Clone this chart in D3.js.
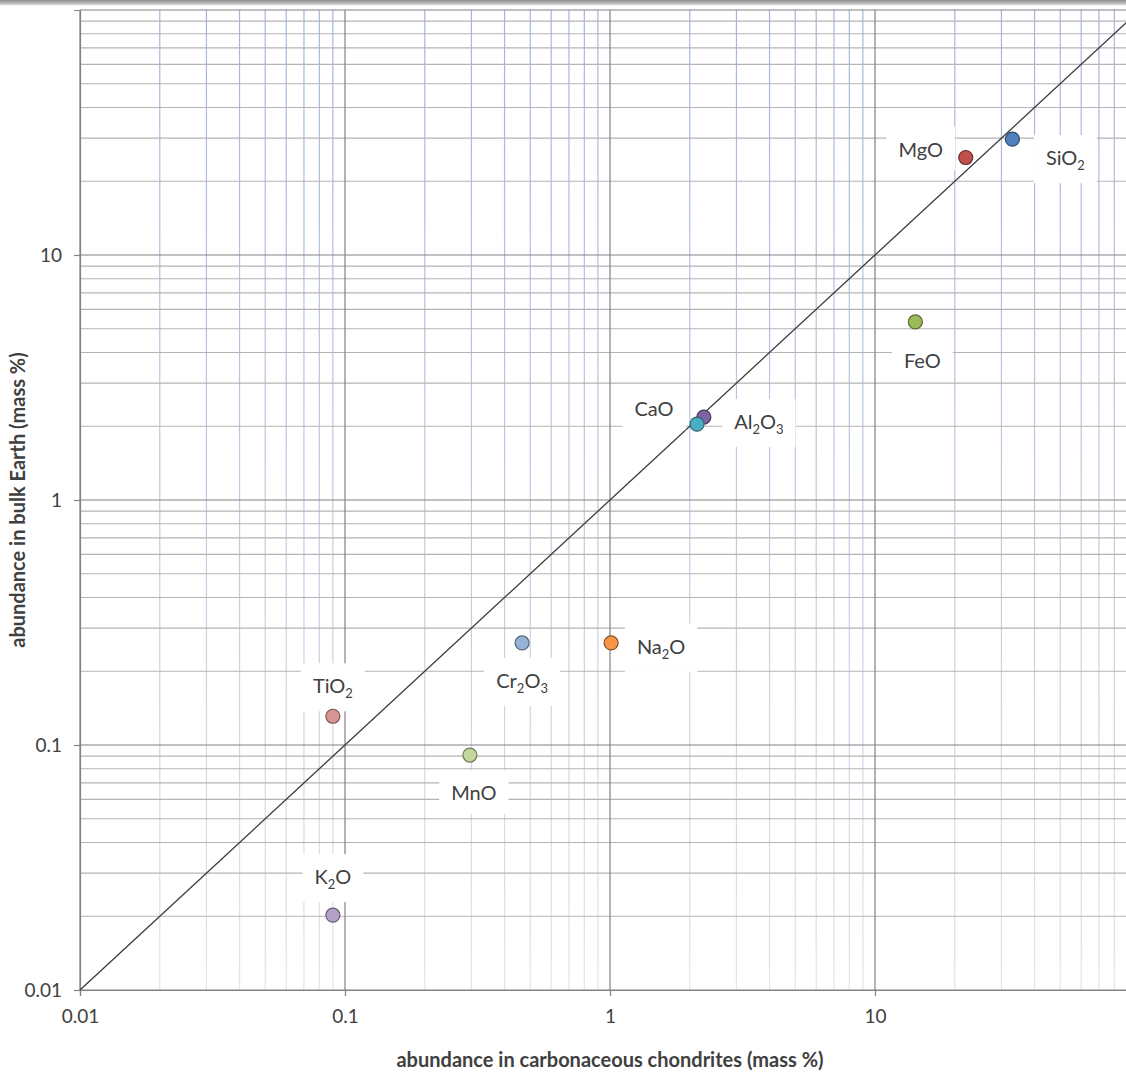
<!DOCTYPE html>
<html>
<head>
<meta charset="utf-8">
<script src="https://cdn.jsdelivr.net/npm/d3@7"></script>
<style>
  html, body { margin: 0; padding: 0; background: #ffffff; }
  svg { display: block; }
  text { font-family: Lato, "Open Sans", sans-serif; fill: #404040; }
</style>
</head>
<body>
<svg id="chart" width="1126" height="1077"></svg>
<script>
// ---------- data ----------
const oxides = ["SiO2", "MgO", "FeO", "Al2O3", "CaO", "Na2O", "Cr2O3", "TiO2", "MnO", "K2O"];
const chondriteValues = [33, 22, 14.2, 2.26, 2.13, 1.01, 0.466, 0.090, 0.296, 0.090];
const bulkEarthValues = [29.7, 25, 5.33, 2.18, 2.04, 0.261, 0.261, 0.131, 0.091, 0.0202];
const markerColors = ["#4F81BD", "#C0504D", "#9BBB59", "#8064A2", "#4BACC6", "#F79646", "#95B3D7", "#D99694", "#C3D69B", "#B3A2C7"];
const tickValues = [0.01, 0.1, 1, 10, 100];
const tickLabels = ["0.01", "0.1", "1", "10", "100"];
const xTitle = "abundance in carbonaceous chondrites (mass %)";
const yTitle = "abundance in bulk Earth (mass %)";

// label placement relative to the marker (layout only)
const labelOffsets = {
  SiO2: [53, 19], MgO: [-45, -8], FeO: [7, 39], Al2O3: [55, 5], CaO: [-43, -15],
  Na2O: [50, 4], Cr2O3: [0, 38], TiO2: [0, -30], MnO: [4, 38], K2O: [0, -38]
};

// ---------- layout ----------
const W = 1126, H = 1077;
const mLeft = 80, mRight = 1140, mTop = 10, mBottom = 990;

const svg = d3.select("#chart");
const defs = svg.append("defs");

const x = d3.scaleLog().domain([0.01, 100]).range([mLeft, mRight]);
const y = d3.scaleLog().domain([0.01, 100]).range([mBottom, mTop]);

// top shadow bar
const shadow = defs.append("linearGradient").attr("id", "shadow").attr("x1", 0).attr("y1", 0).attr("x2", 0).attr("y2", 1);
shadow.append("stop").attr("offset", 0).attr("stop-color", "#8e8e8e");
shadow.append("stop").attr("offset", 0.6).attr("stop-color", "#bdbdbd");
shadow.append("stop").attr("offset", 1).attr("stop-color", "#ffffff");
svg.append("rect").attr("x", 0).attr("y", 0).attr("width", W).attr("height", 6).attr("fill", "url(#shadow)");

// gradient for vertical minor gridlines
const vg = defs.append("linearGradient").attr("id", "vminor").attr("gradientUnits", "userSpaceOnUse")
  .attr("x1", 0).attr("y1", mTop).attr("x2", 0).attr("y2", mBottom);
vg.append("stop").attr("offset", 0).attr("stop-color", "#a3b6da");
vg.append("stop").attr("offset", 0.55).attr("stop-color", "#c3cbe0");
vg.append("stop").attr("offset", 1).attr("stop-color", "#e4e4e9");

// minor tick values
const minor = [];
for (let d = -2; d < 2; d++) for (let m = 2; m <= 9; m++) minor.push(m * Math.pow(10, d));

const grid = svg.append("g");
grid.selectAll("line.vmin").data(minor).join("line").attr("class", "vmin")
  .attr("x1", d => x(d)).attr("x2", d => x(d)).attr("y1", mTop).attr("y2", mBottom)
  .attr("stroke", "url(#vminor)").attr("stroke-width", 1.2);
grid.selectAll("line.hmin").data(minor).join("line").attr("class", "hmin")
  .attr("x1", mLeft).attr("x2", mRight).attr("y1", d => y(d)).attr("y2", d => y(d))
  .attr("stroke", "#b4b4b4").attr("stroke-width", 1.2);
grid.selectAll("line.vmaj").data(tickValues).join("line").attr("class", "vmaj")
  .attr("x1", d => x(d)).attr("x2", d => x(d)).attr("y1", mTop).attr("y2", mBottom)
  .attr("stroke", "#828282").attr("stroke-width", 1.2);
grid.selectAll("line.hmaj").data(tickValues).join("line").attr("class", "hmaj")
  .attr("x1", mLeft).attr("x2", mRight).attr("y1", d => y(d)).attr("y2", d => y(d))
  .attr("stroke", "#828282").attr("stroke-width", 1.2);

// axes
const xAxis = d3.axisBottom(x).tickValues(tickValues.slice(0, 4)).tickFormat((d, i) => tickLabels[i]).tickSize(6).tickPadding(14);
const yAxis = d3.axisLeft(y).tickValues(tickValues.slice(0, 4)).tickFormat((d, i) => tickLabels[i]).tickSize(6).tickPadding(12);
const gx = svg.append("g").attr("transform", `translate(0,${mBottom})`).call(xAxis);
const gy = svg.append("g").attr("transform", `translate(${mLeft},0)`).call(yAxis);
[gx, gy].forEach(g => {
  g.select(".domain").attr("stroke", "#828282").attr("stroke-width", 1.2);
  g.selectAll(".tick line").attr("stroke", "#828282").attr("stroke-width", 1.2);
  g.selectAll(".tick text").attr("font-family", "Lato, 'Open Sans', sans-serif").attr("font-size", 19).attr("fill", "#3a3a3a");
});

// diagonal 1:1 line
svg.append("line")
  .attr("x1", x(0.01)).attr("y1", y(0.01)).attr("x2", x(100)).attr("y2", y(100))
  .attr("stroke", "#3a3a3a").attr("stroke-width", 1.3);

// data labels with white boxes
const pts = oxides.map((n, i) => ({ name: n, cx: chondriteValues[i], ey: bulkEarthValues[i], color: markerColors[i] }));

const labels = svg.append("g");
pts.forEach(p => {
  const off = labelOffsets[p.name];
  const tx = x(p.cx) + off[0], ty = y(p.ey) + off[1];
  const g = labels.append("g");
  const rect = g.append("rect").attr("fill", "#ffffff");
  const t = g.append("text").attr("x", tx).attr("y", ty + 7).attr("text-anchor", "middle")
    .attr("font-size", 20).attr("fill", "#3a3a3a");
  const parts = p.name.match(/[A-Za-z]+|\d+/g);
  let lowered = false;
  parts.forEach(part => {
    if (/^\d+$/.test(part)) {
      t.append("tspan").attr("font-size", 13).attr("dy", lowered ? 0 : 5).text(part);
      lowered = true;
    } else {
      t.append("tspan").attr("dy", lowered ? -5 : 0).text(part);
      lowered = false;
    }
  });
  const bb = t.node().getBBox();
  rect.attr("x", bb.x - 12).attr("y", bb.y - 10).attr("width", bb.width + 24).attr("height", bb.height + 20);
});

// markers
svg.append("g").selectAll("circle").data(pts).join("circle")
  .attr("cx", d => x(d.cx)).attr("cy", d => y(d.ey)).attr("r", 7)
  .attr("fill", d => d.color)
  .attr("stroke", d => d3.color(d.color).darker(1.6))
  .attr("stroke-width", 1.2);

// axis titles
svg.append("text").attr("x", (mLeft + mRight) / 2).attr("y", 1067).attr("text-anchor", "middle")
  .attr("font-size", 20).attr("font-weight", "bold").attr("fill", "#262626").text(xTitle);
svg.append("text").attr("transform", `translate(25,${(mTop + mBottom) / 2}) rotate(-90)`).attr("text-anchor", "middle")
  .attr("font-size", 20).attr("font-weight", "bold").attr("fill", "#262626").text(yTitle);
</script>
</body>
</html>
